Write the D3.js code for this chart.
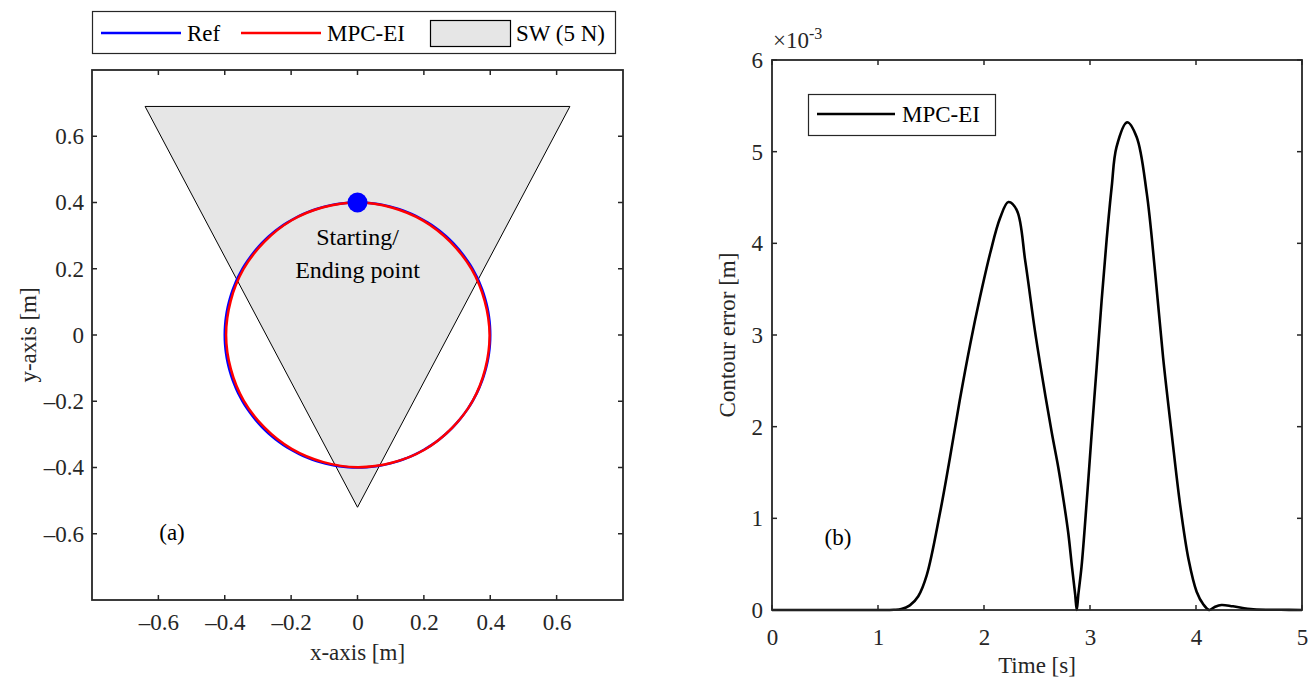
<!DOCTYPE html>
<html><head><meta charset="utf-8">
<script src="https://cdn.jsdelivr.net/npm/d3@7"></script>
<style>
body{margin:0;background:#fff;}
svg text{font-family:"Liberation Serif","Times New Roman",serif !important;}
</style></head>
<body><svg id="c" width="1314" height="682"></svg>
<script>
// ---------- data ----------
const xyTicks = [-0.6, -0.4, -0.2, 0, 0.2, 0.4, 0.6];
const swX = [-0.64, 0.64, 0];
const swY = [0.69, 0.69, -0.52];
const refCenter = [0, 0];
const refRadius = 0.4;
const mpcAngleDeg = [0, 30, 60, 90, 120, 150, 180, 210, 240, 270, 300, 330];
const mpcRadius = [0.400, 0.398, 0.397, 0.398, 0.400, 0.401, 0.399, 0.397, 0.396, 0.396, 0.397, 0.399];
const startPoint = [0, 0.4];

const timeS = [0, 0.5, 1.0, 1.15, 1.22, 1.3, 1.38, 1.46, 1.585, 1.68, 1.77, 1.87, 1.96, 2.06, 2.15, 2.23, 2.31, 2.39, 2.48, 2.56, 2.64, 2.70, 2.75, 2.795, 2.83, 2.86, 2.875, 2.89, 2.92, 2.97, 3.016, 3.063, 3.11, 3.157, 3.205, 3.25, 3.35, 3.44, 3.535, 3.613, 3.69, 3.77, 3.85, 3.93, 4.006, 4.07, 4.125, 4.18, 4.24, 4.35, 4.54, 4.8, 5.0];
const contourErr = [0, 0, 0, 0.002, 0.01, 0.05, 0.15, 0.38, 1.06, 1.67, 2.28, 2.90, 3.40, 3.90, 4.27, 4.45, 4.36, 3.80, 3.05, 2.47, 1.93, 1.56, 1.20, 0.84, 0.47, 0.17, 0.0, 0.17, 0.47, 1.2, 1.93, 2.65, 3.38, 4.04, 4.62, 5.05, 5.32, 5.16, 4.55, 3.70, 2.75, 1.93, 1.15, 0.55, 0.20, 0.06, 0.0, 0.035, 0.055, 0.04, 0.008, 0.002, 0.0];
const timeTicks = [0, 1, 2, 3, 4, 5];
const errTicks = [0, 1, 2, 3, 4, 5, 6];

const FONT = '"Liberation Serif","Times New Roman",serif';
const svg = d3.select("#c");
const axisCol = "#262626";
const fs = 23;
const fmt = d => d === 0 ? "0" : (d < 0 ? "\u2013" + Math.abs(d).toFixed(1) : d.toFixed(1));

function txt(g, x, y, s, size, anchor) {
  return g.append("text").attr("x", x).attr("y", y).attr("text-anchor", anchor || "start")
    .attr("font-size", size).style("font-family", FONT).style("fill", "#000").text(s);
}

function frame(g, x, y, xt, yt) {
  const [x0, x1] = x.range(), [y0, y1] = y.range();
  const tl = 5;
  xt.forEach(t => {
    g.append("line").attr("x1", x(t)).attr("x2", x(t)).attr("y1", y0).attr("y2", y0 - tl).attr("stroke", axisCol).attr("stroke-width", 1.5);
    g.append("line").attr("x1", x(t)).attr("x2", x(t)).attr("y1", y1).attr("y2", y1 + tl).attr("stroke", axisCol).attr("stroke-width", 1.5);
  });
  yt.forEach(t => {
    g.append("line").attr("y1", y(t)).attr("y2", y(t)).attr("x1", x0).attr("x2", x0 + tl).attr("stroke", axisCol).attr("stroke-width", 1.5);
    g.append("line").attr("y1", y(t)).attr("y2", y(t)).attr("x1", x1).attr("x2", x1 - tl).attr("stroke", axisCol).attr("stroke-width", 1.5);
  });
  g.append("rect").attr("x", x0).attr("y", y1).attr("width", x1 - x0).attr("height", y0 - y1)
    .attr("fill", "none").attr("stroke", axisCol).attr("stroke-width", 1.8);
}

function tickAxes(g, x, y, xt, yt, xf, yf, xBase, yRight) {
  const xa = d3.axisBottom(x).tickValues(xt).tickSize(0).tickPadding(0).tickFormat(xf);
  const ya = d3.axisLeft(y).tickValues(yt).tickSize(0).tickPadding(0).tickFormat(yf);
  const gx = g.append("g").attr("transform", `translate(0,${xBase})`).call(xa)
    .attr("font-family", FONT).attr("font-size", fs);
  gx.select(".domain").remove();
  gx.selectAll("text").attr("y", 0).attr("dy", 0).style("font-family", FONT).style("fill", "#262626");
  const gy = g.append("g").attr("transform", `translate(${yRight},0)`).call(ya)
    .attr("font-family", FONT).attr("font-size", fs);
  gy.select(".domain").remove();
  gy.selectAll("text").attr("x", 0).attr("dy", "0.32em").style("font-family", FONT).style("fill", "#262626");
}

// ---------- left panel ----------
const xL = d3.scaleLinear().domain([-0.8, 0.8]).range([92, 623]);
const yL = d3.scaleLinear().domain([-0.8, 0.8]).range([600, 70]);
const gL = svg.append("g");

gL.append("path")
  .attr("d", d3.line()(swX.map((v, i) => [xL(v), yL(swY[i])])) + "Z")
  .attr("fill", "#e6e6e6").attr("stroke", "#000").attr("stroke-width", 1);

const refPts = d3.range(0, 361, 2).map(a => {
  const r = a * Math.PI / 180;
  return [xL(refCenter[0] + refRadius * Math.sin(r)), yL(refCenter[1] + refRadius * Math.cos(r))];
});
gL.append("path").attr("d", d3.line()(refPts)).attr("fill", "none").attr("stroke", "#0000ff").attr("stroke-width", 2.5);

const mpcPts = mpcAngleDeg.map((a, i) => {
  const r = a * Math.PI / 180;
  return [xL(mpcRadius[i] * Math.sin(r)), yL(mpcRadius[i] * Math.cos(r))];
});
gL.append("path").attr("d", d3.line().curve(d3.curveCardinalClosed.tension(0.0))(mpcPts))
  .attr("fill", "none").attr("stroke", "#ff0000").attr("stroke-width", 2.5);

gL.append("circle").attr("cx", xL(startPoint[0])).attr("cy", yL(startPoint[1])).attr("r", 10).attr("fill", "#0000ff");

txt(gL, xL(0), 245, "Starting/", 24, "middle");
txt(gL, xL(0), 278, "Ending point", 24, "middle");
txt(gL, 172, 540, "(a)", 23, "middle");

frame(gL, xL, yL, xyTicks, xyTicks);
tickAxes(gL, xL, yL, xyTicks, xyTicks, fmt, fmt, 630, 84);
txt(gL, xL(0), 660, "x-axis [m]", fs, "middle").style("fill", "#262626");
gL.append("text").attr("transform", "translate(36,335) rotate(-90)").attr("text-anchor", "middle")
  .attr("font-size", fs).style("font-family", FONT).style("fill", "#262626").text("y-axis [m]");

// left legend
const lg = svg.append("g");
lg.append("rect").attr("x", 92.5).attr("y", 11.5).attr("width", 523).attr("height", 42).attr("fill", "#fff").attr("stroke", axisCol).attr("stroke-width", 1.2);
lg.append("line").attr("x1", 101).attr("x2", 181).attr("y1", 33).attr("y2", 33).attr("stroke", "#0000ff").attr("stroke-width", 2.5);
txt(lg, 187, 41, "Ref", fs);
lg.append("line").attr("x1", 241).attr("x2", 321).attr("y1", 33).attr("y2", 33).attr("stroke", "#ff0000").attr("stroke-width", 2.5);
txt(lg, 327, 41, "MPC-EI", fs);
lg.append("rect").attr("x", 430.5).attr("y", 20.5).attr("width", 80).attr("height", 26).attr("fill", "#e6e6e6").attr("stroke", "#000").attr("stroke-width", 1.2);
txt(lg, 516, 41, "SW (5 N)", fs);

// ---------- right panel ----------
const xR = d3.scaleLinear().domain([0, 5]).range([772, 1302]);
const yR = d3.scaleLinear().domain([0, 6]).range([610, 60]);
const gR = svg.append("g");
gR.append("path")
  .attr("d", d3.line().x((d, i) => xR(timeS[i])).y(d => yR(d)).curve(d3.curveCatmullRom.alpha(0.5))(contourErr))
  .attr("fill", "none").attr("stroke", "#000").attr("stroke-width", 2.6).attr("stroke-linejoin", "round");
frame(gR, xR, yR, timeTicks, errTicks);
tickAxes(gR, xR, yR, timeTicks, errTicks, d3.format("d"), d3.format("d"), 645, 763);
txt(gR, xR(2.5), 673, "Time [s]", fs, "middle").style("fill", "#262626");
gR.append("text").attr("transform", "translate(735,335) rotate(-90)").attr("text-anchor", "middle")
  .attr("font-size", fs).style("font-family", FONT).style("fill", "#262626").text("Contour error [m]");
const mult = gR.append("text").attr("x", 773).attr("y", 48).attr("font-size", fs).style("font-family", FONT).style("fill", "#262626");
mult.append("tspan").text("\u00d710");
mult.append("tspan").attr("dy", -9).attr("font-size", 16).text("-3");
txt(gR, 838, 545, "(b)", 23, "middle");

// right legend
const rg = svg.append("g");
rg.append("rect").attr("x", 808.5).attr("y", 94.5).attr("width", 187).attr("height", 41).attr("fill", "#fff").attr("stroke", axisCol).attr("stroke-width", 1.2);
rg.append("line").attr("x1", 817).attr("x2", 895).attr("y1", 114).attr("y2", 114).attr("stroke", "#000").attr("stroke-width", 2.6);
txt(rg, 902, 122, "MPC-EI", fs);
</script></body></html>
